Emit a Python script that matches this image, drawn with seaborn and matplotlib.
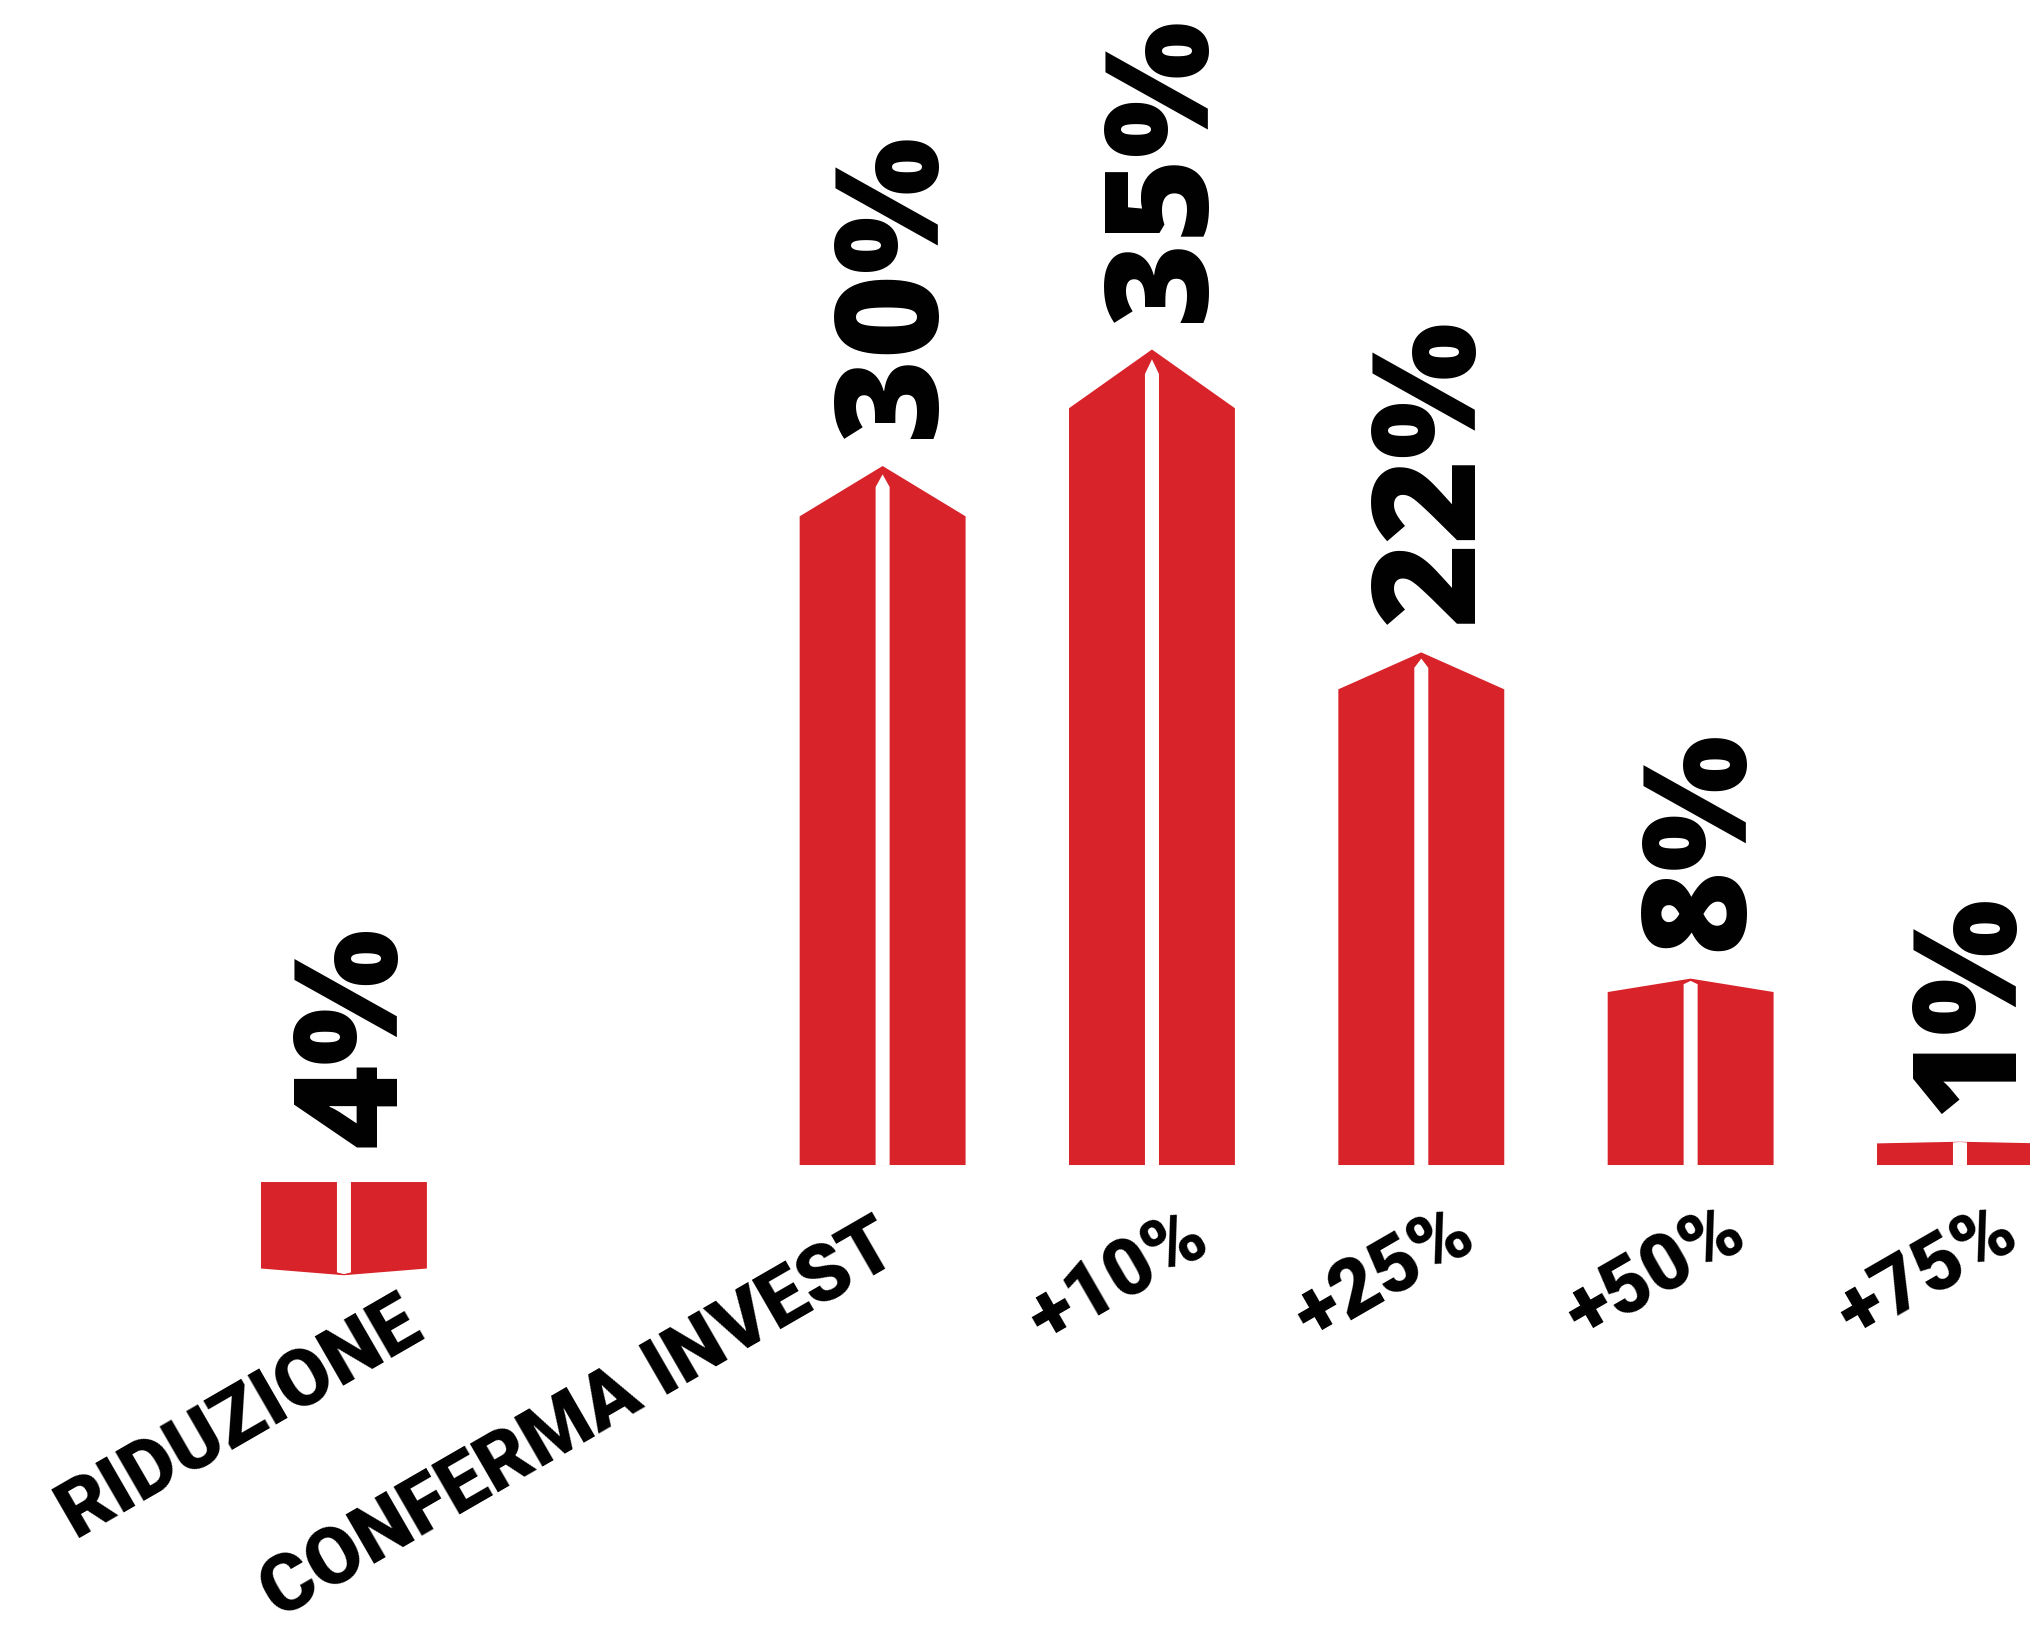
import pandas as pd
import matplotlib
matplotlib.use("Agg")
import matplotlib.pyplot as plt
from matplotlib.patches import Polygon
from matplotlib.transforms import offset_copy
import seaborn as sns

# Survey answers and their shares (percent)
categories = ["RIDUZIONE", "CONFERMA INVEST", "+10%", "+25%", "+50%", "+75%"]
shares = [-4, 30, 35, 22, 8, 1]

# Layout: slot of each bar on the x axis (one empty slot after the first bar)
slots = [0, 2, 3, 4, 5, 6]
# Category label placement (pixel offsets of label centre from bar base)
label_offsets = [(-104, 253), (-304, 255), (-34, 113), (-37, 110), (-35, 108), (-33, 108)]

RED = "#D8232A"
HEAD = 0.072        # arrow head depth as a fraction of bar length
NEG_GAP = 0.73      # negative bars start slightly below the baseline
STRIPE_W = 0.052    # width of the white centre stripe (data units)
VAL_SIZE = 104      # value label size (pt)
DPI = 100

sns.set_theme(style="white")
fig = plt.figure(figsize=(20.3, 16.28), dpi=DPI)
ax = fig.add_axes([0, 0, 1, 1])

df = pd.DataFrame({"slot": slots, "share": shares, "category": categories})
sns.barplot(data=df, x="slot", y="share", native_scale=True, width=0.616,
            color=RED, saturation=1, errorbar=None, ax=ax)

# half the cap height of the value font, in pixels, to centre rotated digits
half_cap = 0.357 * VAL_SIZE / 72 * DPI

bars = sorted(ax.patches, key=lambda p: p.get_x())
for patch, v, cat, (dx, dy) in zip(bars, shares, categories, label_offsets):
    x0 = patch.get_x()
    w = patch.get_width()
    x1 = x0 + w
    xc = x0 + w / 2
    patch.set_visible(False)
    base = 0 if v >= 0 else -NEG_GAP
    tip = base + v
    side = base + v * (1 - HEAD)
    ax.add_patch(Polygon([(x0, base), (x0, side), (xc, tip), (x1, side), (x1, base)],
                         closed=True, facecolor=RED, edgecolor="none", zorder=2))
    s0, s1 = xc - STRIPE_W / 2, xc + STRIPE_W / 2
    ax.add_patch(Polygon([(s0, base), (s0, base + v * 0.97), (xc, base + v * 0.988),
                          (s1, base + v * 0.97), (s1, base)],
                         closed=True, facecolor="white", edgecolor="none", zorder=3))

    # value label, rotated, sitting above the arrow tip (or above the baseline)
    if v >= 0:
        anchor_y, lift = tip, 28
    else:
        anchor_y, lift = 0, 18
    ax.text(xc, anchor_y, f"{abs(v)}%", rotation=90, rotation_mode="anchor",
            ha="left", va="baseline", fontsize=VAL_SIZE, fontweight="heavy",
            family=["Open Sans", "DejaVu Sans"], color="black",
            transform=offset_copy(ax.transData, fig=fig, x=half_cap, y=lift, units="dots"))

    # category label, slanted
    ax.text(xc, 0, cat, rotation=30, rotation_mode="anchor",
            ha="center", va="center", fontsize=57, fontweight="black",
            family=["Roboto", "DejaVu Sans"], color="black",
            transform=offset_copy(ax.transData, fig=fig, x=dx, y=-dy, units="dots"))

ax.set_xlim(-1.277, 6.26)
ax.set_ylim(-19.87, 50.0)
ax.set_axis_off()

fig.savefig("out.png", dpi=DPI, facecolor="white")
